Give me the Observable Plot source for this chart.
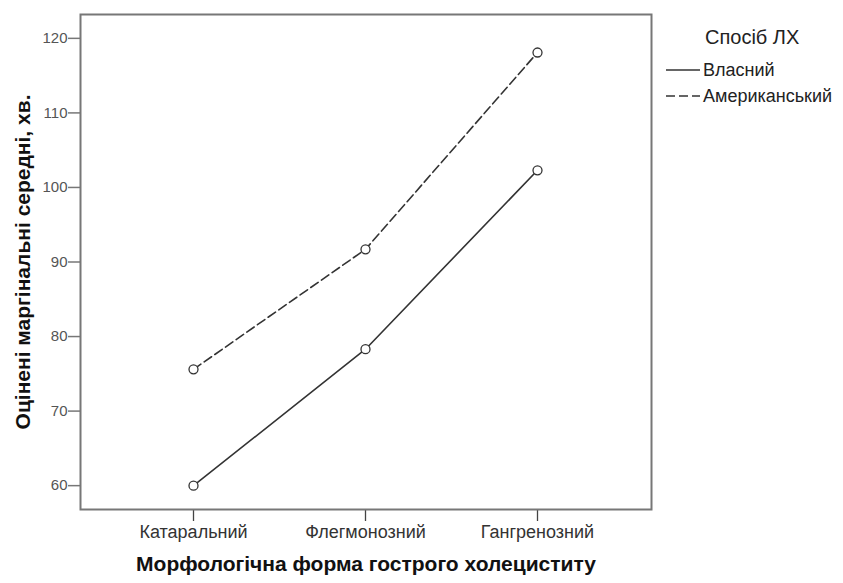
<!DOCTYPE html>
<html>
<head>
<meta charset="utf-8">
<script src="https://cdn.jsdelivr.net/npm/d3@7"></script>
<script src="https://cdn.jsdelivr.net/npm/@observablehq/plot@0.6"></script>
<style>
  html, body { margin: 0; padding: 0; background: #fff; }
  #chart { position: relative; width: 843px; height: 583px; font-family: Arial, "Liberation Sans", sans-serif; }
  #legend { position: absolute; left: 666px; top: 0; width: 177px; color: #222; }
  #legend .title { position: absolute; left: 39px; top: 25px; font-size: 20px; line-height: 24px; white-space: nowrap; }
  #legend .item { position: absolute; left: 0; display: flex; align-items: center; font-size: 18px; line-height: 22px; white-space: nowrap; }
  #legend svg { margin-right: 2px; }
</style>
</head>
<body>
<div id="chart"><div id="legend"></div></div>
<script>
// Morphological forms of acute cholecystitis (x categories)
const forms = ["Катаральний", "Флегмонозний", "Гангренозний"];
// Laparoscopic cholecystectomy methods (series)
const methods = ["Власний", "Американський"];
// Estimated marginal means, minutes
const ownValues = [60.0, 78.3, 102.3];
const americanValues = [75.6, 91.7, 118.1];
// y-axis ticks
const yTicks = [60, 70, 80, 90, 100, 110, 120];

const yTitle = "Оцінені маргінальні середні, хв.";
const xTitle = "Морфологічна форма гострого холециститу";
const legendTitle = "Спосіб ЛХ";

const rows = [
  ...forms.map((f, i) => ({form: f, value: ownValues[i], method: methods[0]})),
  ...forms.map((f, i) => ({form: f, value: americanValues[i], method: methods[1]}))
];
const own = rows.filter(d => d.method === methods[0]);
const american = rows.filter(d => d.method === methods[1]);

const ink = "#333";

const chart = Plot.plot({
  width: 843,
  height: 583,
  marginLeft: 80,
  marginRight: 192,
  marginTop: 14,
  marginBottom: 74,
  style: {fontFamily: "Arial, 'Liberation Sans', sans-serif", background: "#fff"},
  x: {type: "point", domain: forms, insetLeft: 113, insetRight: 114, padding: 0},
  y: {domain: [56.8, 123.2]},
  marks: [
    Plot.axisY({ticks: yTicks, tickSize: 12, tickPadding: 1, fontSize: 15, color: "#555", stroke: "#777", strokeWidth: 1.5, label: null}),
    Plot.axisX({tickSize: 12, tickPadding: 4, fontSize: 18, color: "#333", stroke: "#444", strokeWidth: 1.3, label: null}),
    Plot.frame({stroke: "#777", strokeWidth: 2}),
    Plot.line(own, {x: "form", y: "value", stroke: ink, strokeWidth: 1.6}),
    Plot.line(american, {x: "form", y: "value", stroke: ink, strokeWidth: 1.6, strokeDasharray: "9,4"}),
    Plot.dot(rows, {x: "form", y: "value", r: 4.5, stroke: ink, strokeWidth: 1.3, fill: "#fff"}),
    Plot.text([yTitle], {text: d => d, frameAnchor: "left", textAnchor: "middle", dx: -57, rotate: -90, fontSize: 21, fontWeight: "bold", fill: "#111"}),
    Plot.text([xTitle], {text: d => d, frameAnchor: "bottom", textAnchor: "middle", dy: 61, fontSize: 21, fontWeight: "bold", fill: "#111"})
  ]
});
document.getElementById("chart").prepend(chart);

// Legend for the line styles
const legend = document.getElementById("legend");
const t = document.createElement("div");
t.className = "title";
t.textContent = legendTitle;
legend.appendChild(t);
methods.forEach((m, i) => {
  const item = document.createElement("div");
  item.className = "item";
  item.style.top = (59 + i * 26) + "px";
  const sw = d3.create("svg").attr("width", 35).attr("height", 10);
  sw.append("line").attr("x1", 0).attr("x2", 34).attr("y1", 5).attr("y2", 5)
    .attr("stroke", ink).attr("stroke-width", 1.6)
    .attr("stroke-dasharray", i === 1 ? "9,4" : null);
  item.appendChild(sw.node());
  const s = document.createElement("span");
  s.textContent = m;
  item.appendChild(s);
  legend.appendChild(item);
});
</script>
</body>
</html>
